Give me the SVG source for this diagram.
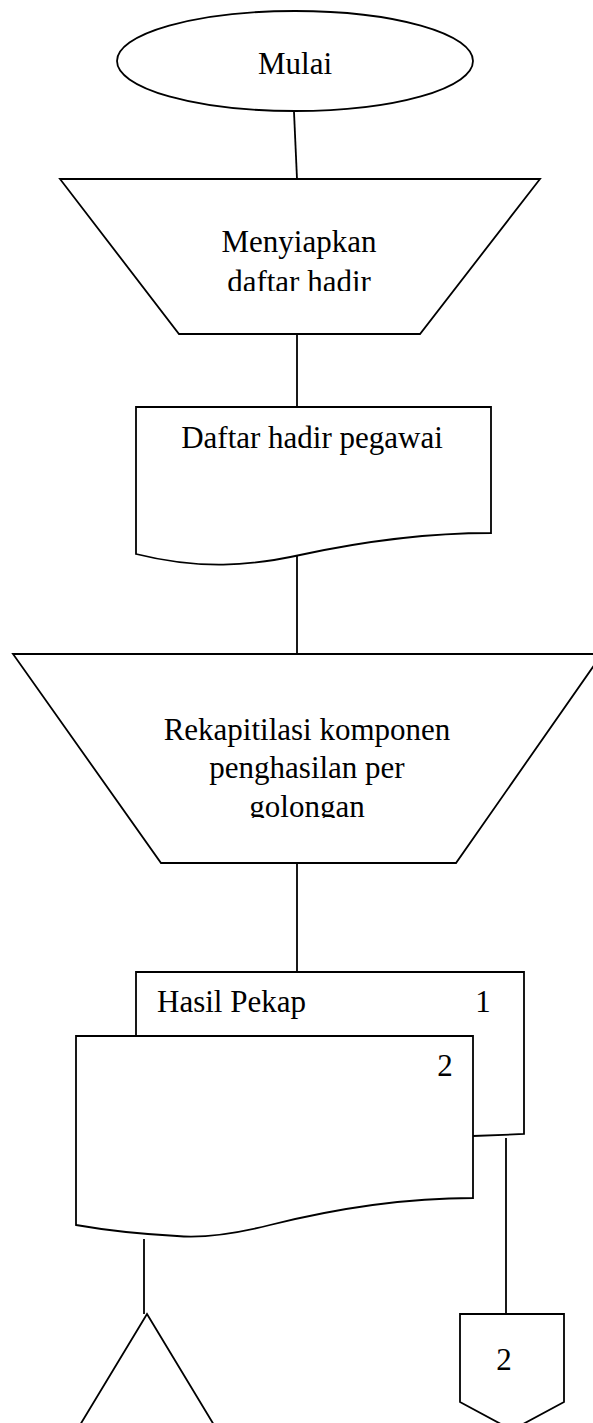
<svg xmlns="http://www.w3.org/2000/svg" width="593" height="1423" viewBox="0 0 593 1423">
  <style>
    .shape { fill: #ffffff; stroke: #000000; stroke-width: 1.8; }
    .line { fill: none; stroke: #000000; stroke-width: 1.8; }
    .label { font-family: "Liberation Serif", "Times New Roman", serif; font-size: 31px; fill: #000000; }
    .mid { text-anchor: middle; }
  </style>
  <defs>
    <!-- text boxes cut off their last line -->
    <clipPath id="clipPrep1"><rect x="60" y="200" width="480" height="91"/></clipPath>
    <clipPath id="clipPrep2"><rect x="13" y="690" width="580" height="128"/></clipPath>
  </defs>
  <rect width="593" height="1423" fill="#ffffff"/>

  <g id="connectors">
    <line class="line" x1="294" y1="112" x2="297" y2="179"/>
    <line class="line" x1="297" y1="334" x2="297" y2="407"/>
    <line class="line" x1="297" y1="553" x2="297" y2="654"/>
    <line class="line" x1="297" y1="863" x2="297" y2="972"/>
    <line class="line" x1="144" y1="1239" x2="144" y2="1314"/>
    <line class="line" x1="506" y1="1138" x2="506" y2="1314"/>
  </g>

  <g id="start">
    <ellipse class="shape" cx="295" cy="61" rx="178" ry="50"/>
    <text class="label mid" x="295" y="74">Mulai</text>
  </g>

  <g id="prep-attendance">
    <polygon class="shape" points="60,179 540,179 420,334 179,334"/>
    <g clip-path="url(#clipPrep1)">
      <text class="label mid" x="299" y="252">Menyiapkan</text>
      <text class="label mid" x="299" y="292">daftar hadir</text>
    </g>
  </g>

  <g id="doc-attendance">
    <path class="shape" d="M136,407 L491,407 L491,533 C420,533 360,542 300,555 C250,566 200,570 136,554 Z"/>
    <text class="label mid" x="312" y="448">Daftar hadir pegawai</text>
  </g>

  <g id="recap">
    <polygon class="shape" points="13,654 602,654 456,863 161,863"/>
    <g clip-path="url(#clipPrep2)">
      <text class="label mid" x="307" y="740">Rekapitilasi komponen</text>
      <text class="label mid" x="307" y="778">penghasilan per</text>
      <text class="label mid" x="307" y="817">golongan</text>
    </g>
  </g>

  <g id="doc-result-1">
    <path class="shape" d="M136,1036 L136,972 L524,972 L524,1134 L473,1136"/>
    <text class="label" x="157" y="1012">Hasil Pekap</text>
    <text class="label mid" x="483" y="1012">1</text>
  </g>

  <g id="doc-result-2">
    <path class="shape" d="M76,1036 L473,1036 L473,1198 C400,1198 330,1210 270,1225 C230,1235 200,1238 177,1236 C140,1234 110,1231 76,1225 Z"/>
    <text class="label mid" x="445" y="1076">2</text>
  </g>

  <g id="archive">
    <polyline class="line" points="80,1425 147,1314 214,1425"/>
  </g>

  <g id="offpage-2">
    <polygon class="shape" points="460,1314 564,1314 564,1402 512,1430 460,1402"/>
    <text class="label mid" x="504" y="1370">2</text>
  </g>
</svg>
